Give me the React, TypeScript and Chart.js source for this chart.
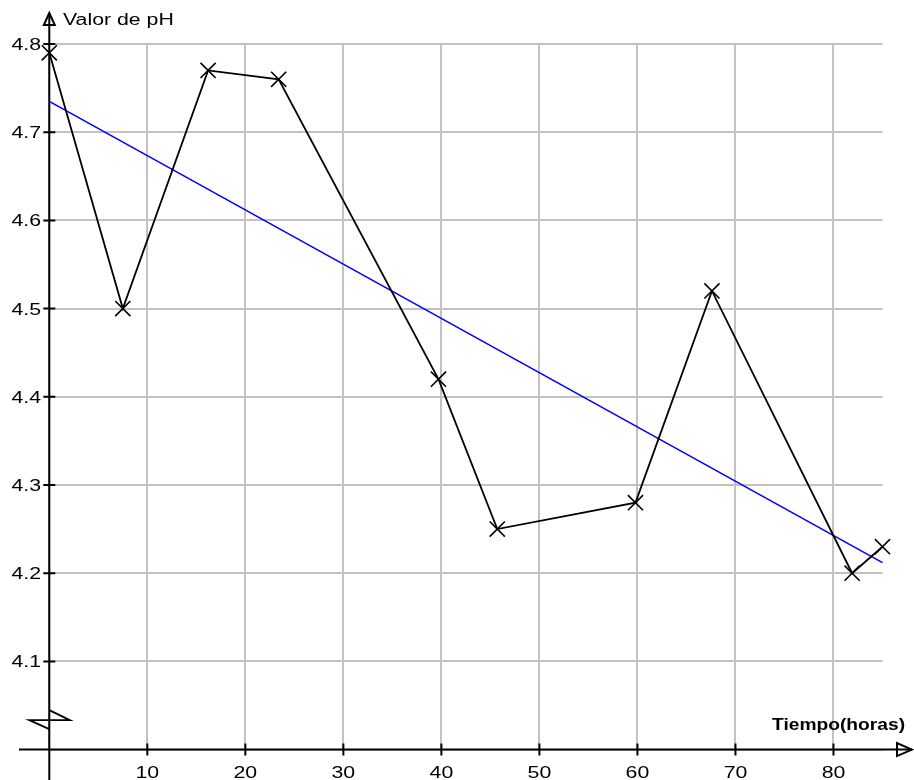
import { useEffect, useRef } from 'react';
import { Chart, registerables } from 'chart.js';

Chart.register(...registerables);

// Measured pH over time
const hours = [0, 7.5, 16.2, 23.4, 39.7, 45.7, 59.8, 67.6, 81.9, 85];
const phValues = [4.79, 4.5, 4.77, 4.76, 4.42, 4.25, 4.28, 4.52, 4.2, 4.23];

// Linear trend (end points)
const trendHours = [0, 85];
const trendPh = [4.735, 4.212];

const xTickValues = [10, 20, 30, 40, 50, 60, 70, 80];
const yTickValues = [4.1, 4.2, 4.3, 4.4, 4.5, 4.6, 4.7, 4.8];
const xTitle = 'Tiempo(horas)';
const yTitle = 'Valor de pH';

const FONT = '"Liberation Sans", Arial, sans-serif';

function drawStretched(
  ctx: CanvasRenderingContext2D,
  text: string,
  x: number,
  y: number,
  align: 'left' | 'center' | 'right',
  font: string,
  sx: number
) {
  ctx.save();
  ctx.font = font;
  ctx.textAlign = 'left';
  ctx.textBaseline = 'alphabetic';
  ctx.fillStyle = '#000';
  const w = ctx.measureText(text).width * sx;
  const left = align === 'right' ? x - w : align === 'center' ? x - w / 2 : x;
  ctx.translate(left, y);
  ctx.scale(sx, 1);
  ctx.fillText(text, 0, 0);
  ctx.restore();
}

const axesPlugin = {
  id: 'arrowAxes',
  beforeDatasetsDraw(chart: any) {
    const { ctx, scales } = chart;
    const xs = scales.x;
    const ys = scales.y;
    const x0 = xs.getPixelForValue(0);
    const y0 = ys.getPixelForValue(4.0);
    ctx.save();
    ctx.strokeStyle = '#000';
    ctx.lineWidth = 2;
    ctx.lineJoin = 'miter';

    // vertical axis
    ctx.beginPath();
    ctx.moveTo(x0, 780);
    ctx.lineTo(x0, 13);
    ctx.stroke();

    // horizontal axis
    ctx.beginPath();
    ctx.moveTo(19, y0);
    ctx.lineTo(912, y0);
    ctx.stroke();

    // tick marks
    ctx.beginPath();
    xTickValues.forEach((v) => {
      const px = xs.getPixelForValue(v);
      ctx.moveTo(px, y0 - 6);
      ctx.lineTo(px, y0 + 6);
    });
    yTickValues.forEach((v) => {
      const py = ys.getPixelForValue(v);
      ctx.moveTo(x0 - 6, py);
      ctx.lineTo(x0 + 6, py);
    });
    ctx.stroke();

    // open arrow heads
    ctx.lineWidth = 2;
    ctx.beginPath();
    ctx.moveTo(x0, 13);
    ctx.lineTo(x0 + 5.5, 25);
    ctx.lineTo(x0 - 5.5, 25);
    ctx.closePath();
    ctx.stroke();

    ctx.beginPath();
    ctx.moveTo(912, y0);
    ctx.lineTo(897, y0 - 6.5);
    ctx.lineTo(897, y0 + 6.5);
    ctx.closePath();
    ctx.stroke();

    // axis break mark
    ctx.lineWidth = 1.8;
    ctx.beginPath();
    ctx.moveTo(x0, y0 - 39.5);
    ctx.lineTo(x0 + 20.5, y0 - 29.5);
    ctx.lineTo(x0 - 20, y0 - 29.5);
    ctx.lineTo(x0, y0 - 20.5);
    ctx.stroke();
    ctx.restore();
  },
  afterDraw(chart: any) {
    const { ctx, scales } = chart;
    const xs = scales.x;
    const ys = scales.y;
    const y0 = ys.getPixelForValue(4.0);
    const regular = `16px ${FONT}`;
    yTickValues.forEach((v) => {
      drawStretched(ctx, v.toFixed(1), 41, ys.getPixelForValue(v) + 6, 'right', regular, 1.33);
    });
    xTickValues.forEach((v) => {
      drawStretched(ctx, String(v), xs.getPixelForValue(v), y0 + 28, 'center', regular, 1.33);
    });
    drawStretched(ctx, yTitle, 63, 25, 'left', regular, 1.33);
    drawStretched(ctx, xTitle, 772, 730, 'left', `bold 17px ${FONT}`, 1.13);
  },
};

export default function App() {
  const canvasRef = useRef<HTMLCanvasElement | null>(null);

  useEffect(() => {
    const canvas = canvasRef.current;
    if (!canvas) return;
    const chart = new Chart(canvas, {
      type: 'scatter',
      data: {
        datasets: [
          {
            label: 'pH',
            data: hours.map((h, i) => ({ x: h, y: phValues[i] })),
            showLine: true,
            borderColor: '#000',
            backgroundColor: '#000',
            borderWidth: 1.8,
            pointStyle: 'crossRot',
            pointRadius: 10.7,
            pointHoverRadius: 10.7,
            pointBorderWidth: 1.6,
            pointBorderColor: '#000',
            clip: false,
            order: 0,
          },
          {
            label: 'Tendencia',
            data: trendHours.map((h, i) => ({ x: h, y: trendPh[i] })),
            showLine: true,
            borderColor: '#0000ff',
            borderWidth: 1.6,
            pointRadius: 0,
            pointHoverRadius: 0,
            clip: false,
            order: 1,
          },
        ],
      },
      options: {
        responsive: false,
        animation: false,
        devicePixelRatio: 1,
        events: [],
        layout: { padding: { left: 49.3, top: 44, right: 31.5, bottom: 30.4 } },
        plugins: {
          legend: { display: false },
          tooltip: { enabled: false },
        },
        scales: {
          x: {
            type: 'linear',
            min: 0,
            max: 85,
            border: { display: false },
            ticks: { display: false, stepSize: 10, includeBounds: false },
            grid: { color: '#c2c2c2', lineWidth: 2, drawTicks: false },
          },
          y: {
            type: 'linear',
            min: 4.0,
            max: 4.8,
            border: { display: false },
            ticks: { display: false, stepSize: 0.1, includeBounds: false },
            grid: { color: '#c2c2c2', lineWidth: 2, drawTicks: false },
          },
        },
      },
      plugins: [axesPlugin],
    });
    return () => chart.destroy();
  }, []);

  return (
    <div style={{ position: 'absolute', left: 0, top: 0, width: 914, height: 780, background: '#fff' }}>
      <canvas ref={canvasRef} width={914} height={780} style={{ display: 'block' }} />
    </div>
  );
}
